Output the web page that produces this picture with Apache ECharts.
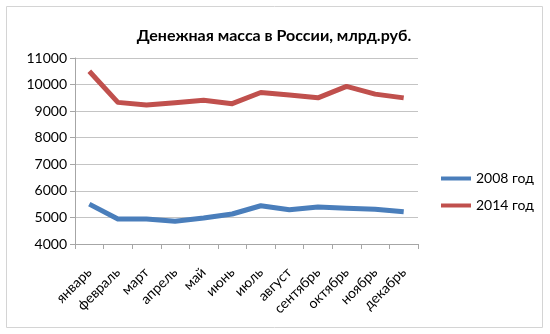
<!DOCTYPE html>
<html>
<head>
<meta charset="utf-8">
<script src="https://cdn.jsdelivr.net/npm/echarts@6/dist/echarts.min.js"></script>
<style>
  html, body { margin: 0; padding: 0; background: #fff; }
  #chart { width: 550px; height: 334px; }
</style>
</head>
<body>
<div id="chart"></div>
<script>
// Monthly money supply in Russia, bln rubles
const months = ['январь', 'февраль', 'март', 'апрель', 'май', 'июнь', 'июль', 'август', 'сентябрь', 'октябрь', 'ноябрь', 'декабрь'];
const seriesNames = ['2008 год', '2014 год'];
const values2008 = [5500, 4940, 4940, 4860, 4980, 5130, 5440, 5290, 5390, 5350, 5310, 5210];
const values2014 = [10500, 9330, 9230, 9320, 9410, 9280, 9700, 9610, 9500, 9930, 9640, 9500];
const yTicks = { min: 4000, max: 11000, step: 1000 };

const fontFamily = 'Lato, "Open Sans", sans-serif';
const chart = echarts.init(document.getElementById('chart'), null, { renderer: 'canvas' });

chart.setOption({
  backgroundColor: '#ffffff',
  animation: false,
  textStyle: { fontFamily: fontFamily, color: '#000' },
  graphic: [{
    type: 'rect',
    shape: { x: 6.5, y: 6.5, width: 536, height: 321 },
    style: { fill: 'none', stroke: '#d4d4d4', lineWidth: 1 },
    silent: true
  }],
  title: {
    text: 'Денежная масса в России, млрд.руб.',
    left: 269,
    textAlign: 'center',
    top: 23,
    textStyle: { fontFamily: fontFamily, fontSize: 16, fontWeight: 'bold', color: '#000' }
  },
  legend: {
    orient: 'vertical',
    left: 436,
    top: 165,
    itemWidth: 30,
    itemHeight: 4,
    itemGap: 10,
    icon: 'rect',
    data: seriesNames,
    textStyle: { fontFamily: fontFamily, fontSize: 14, color: '#000', lineHeight: 17 }
  },
  grid: { left: 75, right: 132, top: 58, bottom: 90, containLabel: false },
  xAxis: {
    type: 'category',
    data: months,
    boundaryGap: true,
    axisLine: { lineStyle: { color: '#a6a6a6', width: 1 } },
    axisTick: { show: true, length: 5, lineStyle: { color: '#a6a6a6' } },
    axisLabel: { rotate: 45, margin: 26, fontSize: 14, color: '#000', fontFamily: fontFamily, interval: 0 }
  },
  yAxis: {
    type: 'value',
    min: yTicks.min,
    max: yTicks.max,
    interval: yTicks.step,
    axisLine: { show: true, lineStyle: { color: '#a6a6a6', width: 1 } },
    axisTick: { show: true, length: 5, lineStyle: { color: '#a6a6a6' } },
    axisLabel: { fontSize: 14, color: '#000', fontFamily: fontFamily, margin: 8, formatter: (v) => String(v) },
    splitLine: { lineStyle: { color: '#c4c4c4', width: 1.2 } }
  },
  series: [
    {
      name: seriesNames[0],
      type: 'line',
      data: values2008,
      symbol: 'none',
      color: '#4a7ebb',
      lineStyle: { width: 5, color: '#4a7ebb', join: 'round' }
    },
    {
      name: seriesNames[1],
      type: 'line',
      data: values2014,
      symbol: 'none',
      color: '#c0504d',
      lineStyle: { width: 5, color: '#c0504d', join: 'round' }
    }
  ]
});
</script>
</body>
</html>
